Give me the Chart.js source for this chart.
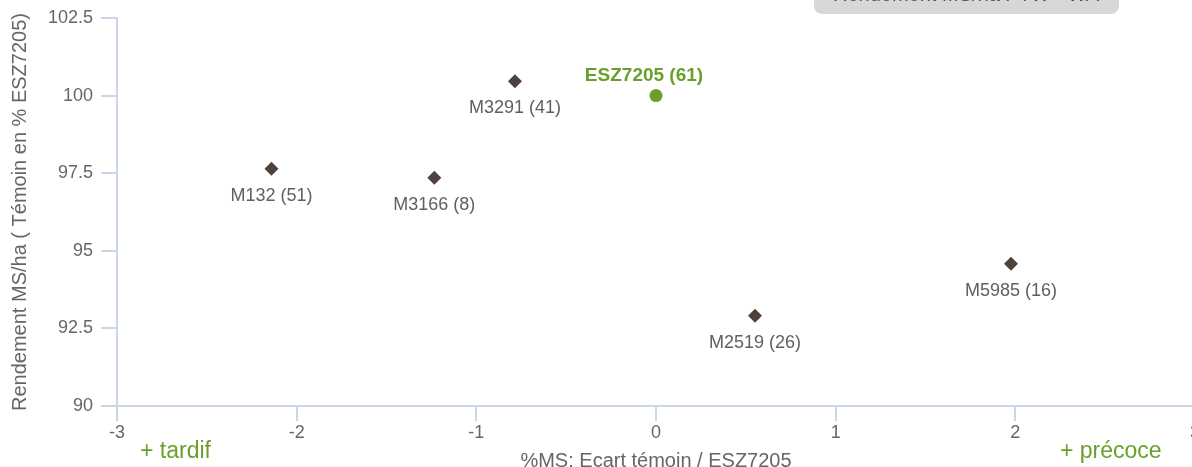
<!DOCTYPE html>
<html><head><meta charset="utf-8">
<script src="https://cdn.jsdelivr.net/npm/chart.js@4"></script>
<style>
html,body{margin:0;padding:0;overflow:hidden;background:#fff;width:1192px;height:467px}
#wrap{position:absolute;left:0;top:-30px;width:1210px;height:510px}
</style></head>
<body><div id="wrap"><canvas id="c"></canvas></div>
<script>
// ---- data ----
const varieties = ['ESZ7205', 'M3291', 'M132', 'M3166', 'M2519', 'M5985'];
const counts    = [61, 41, 51, 8, 26, 16];
const ecartMS   = [0, -0.785, -2.14, -1.234, 0.551, 1.976];      // x : %MS écart témoin
const rendement = [100, 100.46, 97.64, 97.35, 92.91, 94.58];      // y : rendement en % témoin
const xTicks    = [-3, -2, -1, 0, 1, 2, 3];
const yTicks    = [90, 92.5, 95, 97.5, 100, 102.5];
const referenceVariety = 'ESZ7205';
const xTitle = '%MS: Ecart témoin / ESZ7205';
const yTitle = 'Rendement MS/ha ( Témoin en % ESZ7205)';
const boxTitle = 'Rendement MS/ha PTW - WA';

const GREEN = '#6b9f2c';
const FONT = "'Liberation Sans', Arial, sans-serif";

const refIdx = varieties.indexOf(referenceVariety);
const refPoints = [], otherPoints = [];
varieties.forEach((v, i) => {
  const p = {x: ecartMS[i], y: rendement[i], label: v + ' (' + counts[i] + ')'};
  (i === refIdx ? refPoints : otherPoints).push(p);
});

const labelPlugin = {
  id: 'labels',
  afterDatasetsDraw(chart) {
    const ctx = chart.ctx;
    ctx.save();
    ctx.textAlign = 'center';
    ctx.textBaseline = 'middle';
    chart.data.datasets.forEach((ds, di) => {
      const meta = chart.getDatasetMeta(di);
      meta.data.forEach((el, j) => {
        const lab = ds.data[j].label;
        if (ds.isRef) {
          ctx.font = 'bold 19px ' + FONT;
          ctx.fillStyle = GREEN;
          ctx.fillText(lab, el.x - 12, el.y - 20);
        } else {
          ctx.font = '18px ' + FONT;
          ctx.fillStyle = '#606060';
          ctx.fillText(lab, el.x, el.y + 27);
        }
      });
    });
    // axis side notes
    ctx.font = '23px ' + FONT;
    ctx.fillStyle = GREEN;
    ctx.textAlign = 'left';
    ctx.fillText('+ tardif', 140, 482);
    ctx.fillText('+ précoce', 1060, 482);
    // title box (cut off at top)
    ctx.fillStyle = '#d7d7d7';
    ctx.beginPath();
    ctx.roundRect(814, -10, 305, 54, 8);
    ctx.fill();
    ctx.fillStyle = '#555';
    ctx.font = '20px ' + FONT;
    ctx.textAlign = 'center';
    ctx.textBaseline = 'alphabetic';
    ctx.fillText(boxTitle, 966, 31);
    ctx.restore();
  }
};

new Chart(document.getElementById('c'), {
  type: 'scatter',
  data: {
    datasets: [
      { isRef: true, data: refPoints, backgroundColor: GREEN, borderColor: GREEN,
        pointStyle: 'circle', pointRadius: 6.5, borderWidth: 0 },
      { isRef: false, data: otherPoints, backgroundColor: '#4e423d', borderColor: '#4e423d',
        pointStyle: 'rectRot', pointRadius: 7, borderWidth: 0 }
    ]
  },
  options: {
    responsive: true, maintainAspectRatio: false, animation: false, events: [],
    devicePixelRatio: 1,
    layout: { padding: { top: 48, right: 15, left: 0, bottom: 0 } },
    plugins: { legend: { display: false }, tooltip: { enabled: false } },
    scales: {
      x: {
        type: 'linear', min: -3, max: 3,
        afterBuildTicks(s) { s.ticks = xTicks.map(v => ({value: v})); },
        afterFit(s) { s.height = 74; },
        grid: { drawOnChartArea: false, drawTicks: true, tickLength: 15, color: '#ccd6eb', lineWidth: 2 },
        border: { color: '#ccd6eb', width: 2 },
        ticks: { color: '#666', font: { family: FONT, size: 18 }, padding: 1, maxRotation: 0,
                 callback: v => String(v) },
        title: { display: true, text: xTitle, color: '#666', font: { family: FONT, size: 20 },
                 padding: { top: 0, bottom: 7 } }
      },
      y: {
        type: 'linear', min: 90, max: 102.5,
        afterBuildTicks(s) { s.ticks = yTicks.map(v => ({value: v})); },
        afterFit(s) { s.width = 117; },
        grid: { drawOnChartArea: false, drawTicks: true, tickLength: 16, color: '#ccd6eb', lineWidth: 2 },
        border: { color: '#ccd6eb', width: 2 },
        ticks: { color: '#666', font: { family: FONT, size: 18 }, padding: 8,
                 callback: v => String(v) },
        title: { display: true, text: yTitle, color: '#666', font: { family: FONT, size: 20 },
                 padding: { top: 8, bottom: 0 } }
      }
    }
  },
  plugins: [labelPlugin]
});
</script>
</body></html>
